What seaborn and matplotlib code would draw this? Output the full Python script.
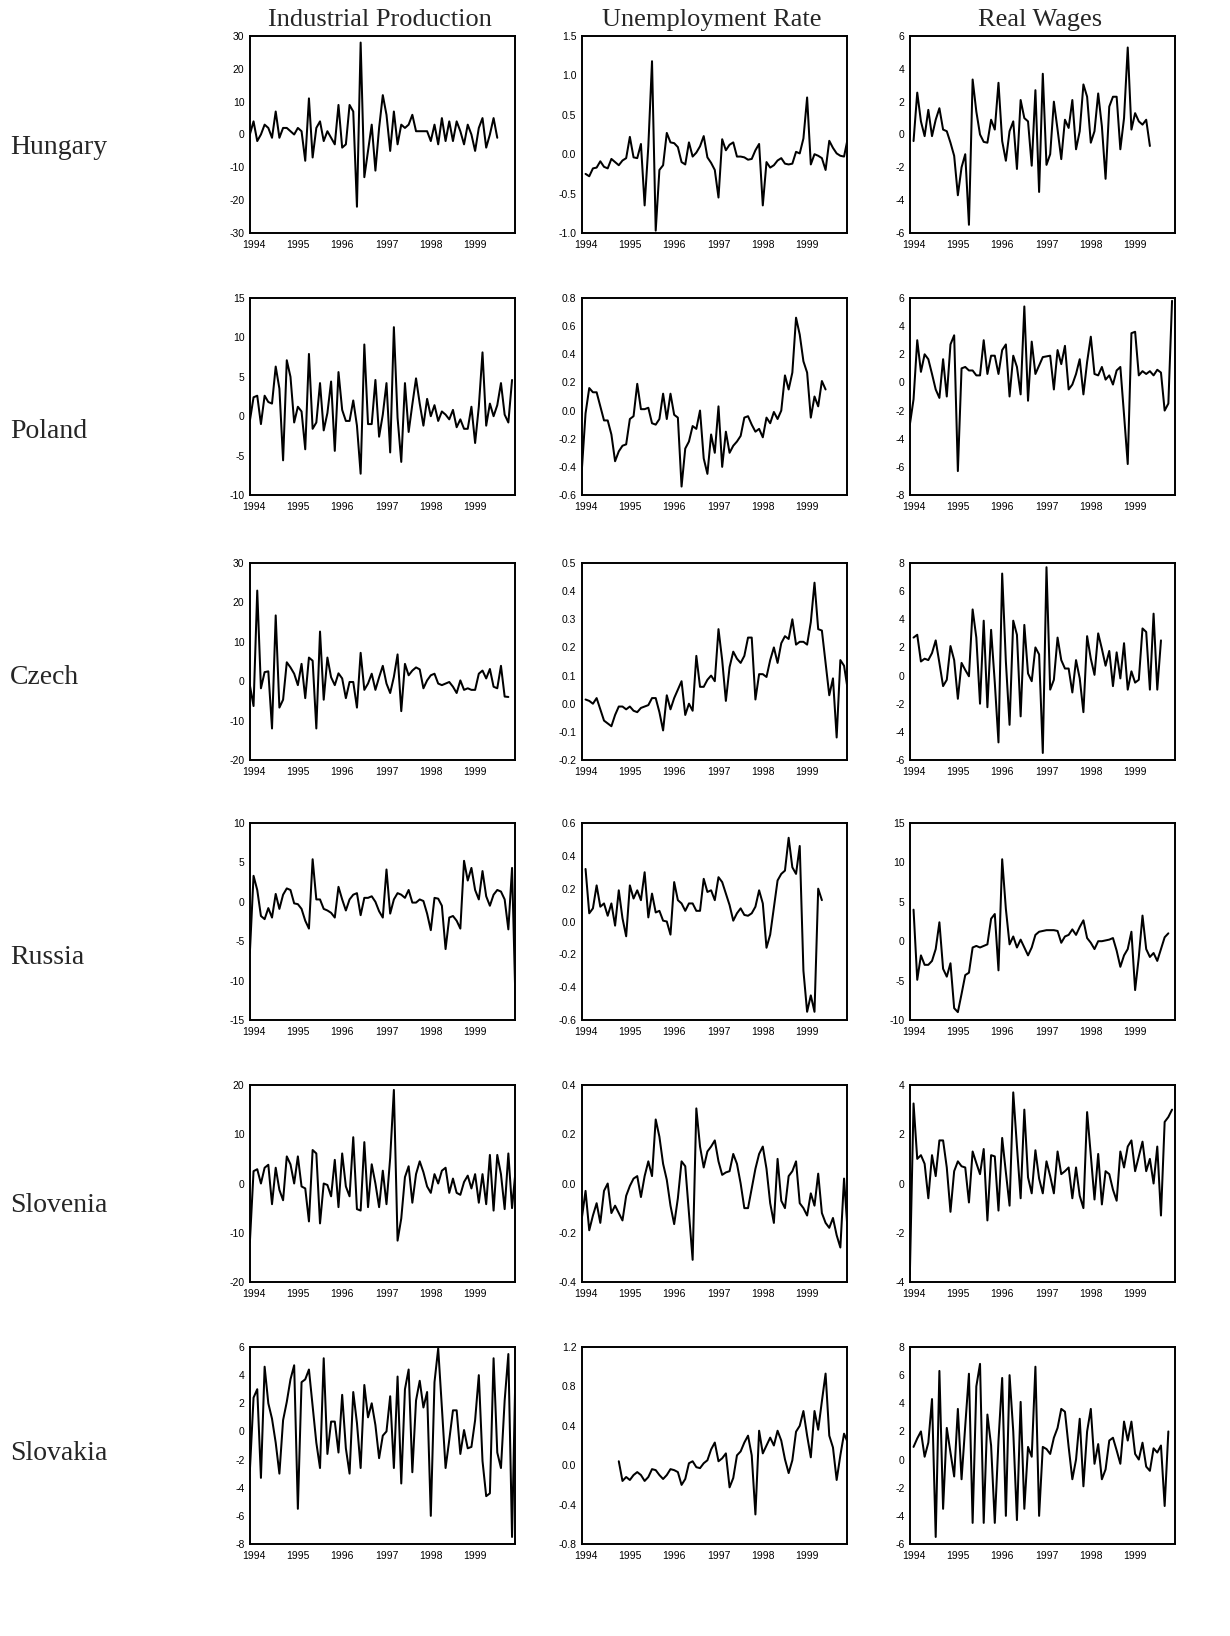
import numpy as np
import pandas as pd
import matplotlib
matplotlib.use("Agg")
import matplotlib.pyplot as plt
import seaborn as sns

sns.set_theme(style="white")
plt.rcParams['font.family'] = ['Liberation Sans', 'DejaVu Sans']
plt.rcParams['axes.unicode_minus'] = False

countries = ["Hungary", "Poland", "Czech", "Russia", "Slovenia", "Slovakia"]
variables = ["Industrial Production", "Unemployment Rate", "Real Wages"]
year_ticks = [1994, 1995, 1996, 1997, 1998, 1999]
year_labels = ["1994", "1995", "1996", "1997", "1998", "1999"]

# monthly series (first value's month offset from Jan 1994 given by *_start)
hungary_ip_start = -1
hungary_ip = [0, 4, -2, 0, 3, 2, -1, 7, -1, 2, 2, 1, 0, 2, 1, -8, 11, -7, 2, 4, -2, 1, -1, -3, 9, -4, -3, 9, 7,
              -22, 28, -13, -5, 3, -11, 2, 12, 6, -5, 7, -3, 3, 2, 3, 6, 1, 1, 1, 1, -2, 3, -3, 5, -2, 4, -2, 4,
              1, -3, 3, 0, -5, 2, 5, -4, 0, 5, -1]
hungary_ur_start = 0
hungary_ur = [-0.25, -0.28, -0.18, -0.17, -0.09, -0.16, -0.18, -0.06, -0.1, -0.14, -0.08, -0.05, 0.22, -0.04,
              -0.05, 0.13, -0.65, 0.1, 1.18, -0.97, -0.2, -0.14, 0.27, 0.15, 0.14, 0.09, -0.1, -0.13, 0.15,
              -0.03, 0.02, 0.1, 0.23, -0.04, -0.11, -0.2, -0.55, 0.19, 0.05, 0.12, 0.15, -0.03, -0.03, -0.04,
              -0.07, -0.06, 0.05, 0.13, -0.65, -0.1, -0.17, -0.14, -0.08, -0.05, -0.12, -0.13, -0.12, 0.03,
              0.01, 0.2, 0.72, -0.13, 0.0, -0.02, -0.05, -0.2, 0.17, 0.08, 0.01, -0.02, -0.03, 0.2, -0.95]
hungary_rw_start = 0
hungary_rw = [-0.4, 2.55, 0.8, -0.1, 1.5, -0.1, 0.9, 1.6, 0.3, 0.2, -0.5, -1.3, -3.7, -2.0, -1.2, -5.5, 3.35,
              1.4, 0.0, -0.45, -0.5, 0.9, 0.3, 3.15, -0.4, -1.6, 0.2, 0.8, -2.1, 2.1, 1.0, 0.8, -1.9, 2.7, -3.5,
              3.7, -1.85, -1.2, 2.0, 0.3, -1.5, 0.9, 0.4, 2.1, -0.9, 0.2, 3.05, 2.3, -0.5, 0.2, 2.5, 0.5, -2.7,
              1.7, 2.3, 2.3, -0.9, 1.0, 5.3, 0.3, 1.3, 0.8, 0.6, 0.9, -0.7]

poland_ip_start = -1
poland_ip = [-0.6, 2.4, 2.6, -1.0, 2.6, 1.8, 1.6, 6.3, 3.5, -5.6, 7.1, 5.0, -0.8, 1.2, 0.6, -4.2, 7.9, -1.6,
             -0.8, 4.2, -1.8, 0.4, 4.4, -4.4, 5.6, 0.8, -0.6, -0.6, 2.0, -1.2, -7.3, 9.1, -1.0, -1.0, 4.6, -2.6,
             0.2, 4.2, -4.6, 11.3, -0.2, -5.8, 4.2, -2.0, 1.5, 4.8, 1.6, -1.2, 2.2, 0.0, 1.4, -0.6, 0.6, 0.2,
             -0.4, 0.8, -1.4, -0.4, -1.6, -1.6, 1.2, -3.4, 1.2, 8.1, -1.2, 1.6, 0.0, 1.4, 4.2, 0.2, -0.8, 4.6]
poland_ur_start = -1
poland_ur = [-0.42, -0.02, 0.16, 0.13, 0.13, 0.03, -0.07, -0.07, -0.17, -0.36, -0.29, -0.25, -0.24, -0.06,
             -0.04, 0.19, 0.01, 0.01, 0.02, -0.09, -0.1, -0.06, 0.12, -0.06, 0.12, -0.03, -0.05, -0.54, -0.27,
             -0.22, -0.11, -0.13, 0.0, -0.34, -0.45, -0.17, -0.3, 0.03, -0.4, -0.15, -0.3, -0.25, -0.22, -0.18,
             -0.05, -0.04, -0.1, -0.15, -0.13, -0.19, -0.05, -0.09, -0.01, -0.06, 0.0, 0.25, 0.15, 0.27, 0.66,
             0.54, 0.35, 0.27, -0.05, 0.1, 0.03, 0.21, 0.15]
poland_rw_start = -1
poland_rw = [-3.0, -1.2, 3.0, 0.75, 2.0, 1.65, 0.6, -0.5, -1.1, 1.65, -1.0, 2.7, 3.35, -6.3, 1.0, 1.1, 0.85,
             0.85, 0.5, 0.5, 3.0, 0.6, 1.9, 1.9, 0.6, 2.3, 2.7, -1.0, 1.9, 1.1, -0.85, 5.4, -1.3, 2.9, 0.6, 1.2,
             1.8, 1.85, 1.9, -0.5, 2.3, 1.3, 2.6, -0.5, -0.15, 0.6, 1.65, -0.85, 1.45, 3.25, 0.6, 0.5, 1.1, 0.2,
             0.5, -0.15, 0.85, 1.1, -2.3, -5.8, 3.5, 3.6, 0.5, 0.8, 0.6, 0.8, 0.5, 0.9, 0.7, -2.0, -1.5, 5.8]

czech_ip_start = -1
czech_ip = [-1, -6.3, 23, -1.8, 2.3, 2.5, -12, 16.7, -6.7, -4.7, 4.8, 3.5, 1.9, -1.0, 4.4, -4.3, 6, 5.2, -12,
            12.6, -4.7, 6, 1, -1, 2, 0.7, -4.3, -0.2, -0.2, -6.7, 7.2, -2.2, -0.6, 1.9, -2.2, 1.0, 3.9, -0.6,
            -3, 1.1, 6.8, -7.6, 4.4, 1.5, 2.7, 3.5, 3.0, -1.8, 0.2, 1.5, 1.9, -0.6, -1, -0.6, -0.2, -1.4, -3,
            0.2, -2.2, -1.8, -2.2, -2.2, 1.9, 2.7, 0.7, 3.1, -1.4, -1.8, 3.9, -3.9, -4]
czech_ur_start = 0
czech_ur = [0.015, 0.01, 0.0, 0.02, -0.02, -0.06, -0.07, -0.08, -0.04, -0.01, -0.01, -0.02, -0.01, -0.025,
            -0.03, -0.015, -0.01, -0.005, 0.02, 0.02, -0.03, -0.095, 0.03, -0.02, 0.02, 0.05, 0.08, -0.04, 0.0,
            -0.025, 0.17, 0.06, 0.06, 0.085, 0.1, 0.08, 0.265, 0.155, 0.01, 0.13, 0.185, 0.16, 0.145, 0.17,
            0.235, 0.235, 0.015, 0.105, 0.105, 0.095, 0.155, 0.2, 0.145, 0.215, 0.24, 0.23, 0.3, 0.21, 0.22,
            0.22, 0.21, 0.29, 0.43, 0.265, 0.26, 0.145, 0.03, 0.09, -0.12, 0.155, 0.135, 0.05]
czech_rw_start = 0
czech_rw = [2.7, 2.9, 1.0, 1.2, 1.1, 1.6, 2.5, 0.9, -0.75, -0.3, 2.1, 1.1, -1.65, 0.9, 0.4, -0.05, 4.7, 2.7,
            -2.0, 3.9, -2.25, 3.25, -0.5, -4.75, 7.25, 1.0, -3.5, 3.9, 2.9, -2.9, 3.6, 0.15, -0.4, 2.0, 1.5,
            -5.5, 7.7, -1.0, -0.3, 2.7, 1.1, 0.5, 0.5, -1.2, 1.1, -0.2, -2.6, 2.8, 1.2, 0.05, 3.0, 1.9, 0.7,
            1.75, -0.75, 1.65, -0.2, 2.3, -1.0, 0.3, -0.5, -0.3, 3.35, 3.1, -1.0, 4.4, -1.0, 2.5]

russia_ip_start = -1
russia_ip = [-6.5, 3.3, 1.5, -1.8, -2.2, -0.8, -2.0, 1.0, -0.9, 0.9, 1.7, 1.5, -0.2, -0.3, -0.9, -2.4, -3.4,
             5.4, 0.3, 0.3, -0.9, -1.1, -1.4, -2.0, 1.9, 0.3, -1.1, 0.3, 0.9, 1.1, -1.7, 0.5, 0.5, 0.7, 0.0,
             -1.2, -2.0, 4.1, -1.5, 0.3, 1.1, 0.9, 0.5, 1.5, -0.1, -0.1, 0.3, 0.1, -1.5, -3.6, 0.5, 0.4, -0.5,
             -6.0, -2.0, -1.8, -2.4, -3.4, 5.2, 2.7, 4.3, 1.5, 0.3, 3.9, 0.7, -0.5, 0.9, 1.5, 1.3, 0.3, -3.5,
             4.3, -14]
russia_ur_start = 0
russia_ur = [0.32, 0.05, 0.08, 0.22, 0.09, 0.11, 0.035, 0.11, -0.025, 0.19, 0.02, -0.09, 0.22, 0.14, 0.19,
             0.13, 0.3, 0.025, 0.17, 0.055, 0.065, 0.005, 0.0, -0.08, 0.24, 0.13, 0.11, 0.065, 0.11, 0.11,
             0.065, 0.065, 0.26, 0.18, 0.19, 0.13, 0.27, 0.24, 0.17, 0.1, 0.005, 0.05, 0.08, 0.04, 0.035, 0.05,
             0.09, 0.19, 0.11, -0.16, -0.08, 0.085, 0.25, 0.29, 0.31, 0.51, 0.33, 0.29, 0.46, -0.3, -0.55,
             -0.45, -0.55, 0.2, 0.13]
russia_rw_start = 0
russia_rw = [4.0, -4.9, -1.8, -3.0, -3.0, -2.5, -1.0, 2.4, -3.5, -4.5, -2.8, -8.5, -9.0, -6.7, -4.3, -4.0,
             -0.8, -0.6, -0.8, -0.6, -0.4, 2.85, 3.45, -3.7, 10.4, 4.1, -0.4, 0.6, -0.8, 0.2, -0.8, -1.8, -0.8,
             0.8, 1.2, 1.3, 1.4, 1.4, 1.4, 1.3, -0.2, 0.6, 0.8, 1.5, 0.8, 1.8, 2.65, 0.4, -0.2, -1.0, 0.0, 0.0,
             0.1, 0.2, 0.4, -1.2, -3.25, -1.8, -1.0, 1.2, -6.2, -2.0, 3.25, -1.0, -2.0, -1.5, -2.5, -1.0, 0.5,
             1.0]

slovenia_ip_start = -1
slovenia_ip = [-12, 2.5, 2.9, 0.0, 3.2, 3.8, -4.2, 3.2, -1.3, -3.4, 5.5, 3.9, 0.0, 5.5, -0.6, -1.0, -7.7, 6.8,
               6.1, -8.1, 0.0, -0.3, -2.6, 4.8, -4.8, 6.1, -0.6, -2.6, 9.4, -5.2, -5.5, 8.4, -4.8, 3.9, 0.0,
               -4.8, 2.6, -4.2, 5.2, 19.0, -11.6, -7.1, 1.3, 3.5, -3.9, 1.9, 4.5, 2.3, -0.6, -1.9, 1.9, 0.0, 2.6,
               3.2, -1.9, 1.0, -1.9, -2.3, 0.3, 1.6, -1.0, 1.9, -3.9, 1.9, -4.2, 5.8, -5.5, 5.8, 1.9, -5.2, 6.1,
               -5.0, 3.0]
slovenia_ur_start = -1
slovenia_ur = [-0.14, -0.03, -0.19, -0.13, -0.08, -0.16, -0.03, 0.0, -0.12, -0.09, -0.12, -0.15, -0.05, -0.01,
               0.02, 0.03, -0.055, 0.03, 0.09, 0.03, 0.26, 0.19, 0.08, 0.015, -0.09, -0.165, -0.06, 0.09, 0.07,
               -0.12, -0.31, 0.305, 0.15, 0.065, 0.13, 0.15, 0.175, 0.09, 0.035, 0.045, 0.05, 0.12, 0.08, 0.0,
               -0.1, -0.1, -0.02, 0.06, 0.12, 0.15, 0.06, -0.08, -0.16, 0.1, -0.07, -0.1, 0.03, 0.05, 0.09,
               -0.08, -0.1, -0.13, -0.04, -0.09, 0.04, -0.12, -0.16, -0.18, -0.14, -0.21, -0.26, 0.02, -0.2,
               -0.32]
slovenia_rw_start = -1
slovenia_rw = [-3.7, 3.25, 1.0, 1.15, 0.8, -0.6, 1.15, 0.3, 1.75, 1.75, 0.65, -1.15, 0.5, 0.9, 0.7, 0.65,
               -0.77, 1.3, 0.83, 0.38, 1.4, -1.5, 1.15, 1.1, -1.1, 1.85, 0.45, -0.9, 3.7, 1.5, -0.6, 3.0, 0.25,
               -0.4, 1.35, 0.2, -0.4, 0.9, 0.3, -0.4, 1.3, 0.38, 0.5, 0.65, -0.6, 0.65, -0.5, -1.0, 2.9, 1.15,
               -0.65, 1.2, -0.85, 0.5, 0.38, -0.25, -0.7, 1.3, 0.65, 1.5, 1.75, 0.5, 1.1, 1.7, 0.5, 1.0, 0.0,
               1.5, -1.3, 2.5, 2.7, 3.0]

slovakia_ip_start = -1
slovakia_ip = [-2.8, 2.4, 3.0, -3.3, 4.6, 2.0, 0.9, -0.8, -3.0, 0.8, 2.1, 3.7, 4.7, -5.5, 3.5, 3.7, 4.4, 1.8,
               -0.8, -2.6, 5.2, -1.6, 0.7, 0.7, -1.5, 2.6, -1.2, -3.0, 2.8, 0.6, -2.6, 3.3, 1.0, 2.0, 0.45, -1.9,
               -0.3, 0.0, 2.5, -2.6, 3.9, -3.7, 3.0, 4.4, -2.9, 2.2, 3.6, 1.7, 2.8, -6.0, 3.5, 5.9, 1.7, -2.6,
               -0.6, 1.5, 1.5, -1.6, 0.1, -1.2, -1.1, 0.8, 4.0, -2.1, -4.6, -4.4, 5.2, -1.5, -2.6, 2.2, 5.5,
               -7.5, 5.3]
slovakia_ur_start = 9
slovakia_ur = [0.04, -0.16, -0.12, -0.15, -0.1, -0.07, -0.1, -0.16, -0.12, -0.04, -0.05, -0.1, -0.14, -0.1,
               -0.04, -0.05, -0.07, -0.2, -0.14, 0.02, 0.04, -0.02, -0.03, 0.02, 0.05, 0.16, 0.23, 0.04, 0.07,
               0.12, -0.225, -0.13, 0.1, 0.14, 0.23, 0.3, 0.1, -0.5, 0.35, 0.12, 0.2, 0.28, 0.2, 0.35, 0.25,
               0.06, -0.08, 0.05, 0.34, 0.4, 0.55, 0.3, 0.08, 0.55, 0.36, 0.65, 0.93, 0.3, 0.18, -0.15, 0.1,
               0.32, 0.23]
slovakia_rw_start = 0
slovakia_rw = [0.9, 1.5, 2.0, 0.2, 1.2, 4.3, -5.5, 6.3, -3.5, 2.25, 0.5, -1.2, 3.6, -1.4, 2.4, 6.1, -4.5, 5.2,
               6.8, -4.5, 3.2, 1.0, -4.5, 1.35, 5.8, -4.0, 6.0, 2.0, -4.3, 4.1, -3.5, 0.9, 0.2, 6.6, -4.0, 0.9,
               0.75, 0.4, 1.55, 2.25, 3.6, 3.4, 0.9, -1.4, 0.0, 2.9, -1.9, 2.0, 3.6, -0.3, 1.1, -1.4, -0.7, 1.35,
               1.55, 0.65, -0.3, 2.7, 1.35, 2.7, 0.4, 0.0, 1.2, -0.5, -0.8, 0.8, 0.5, 1.0, -3.3, 2.0]

# axis ranges per panel: (ymin, ymax, step)
ip_ranges = [(-30, 30, 10), (-10, 15, 5), (-20, 30, 10), (-15, 10, 5), (-20, 20, 10), (-8, 6, 2)]
ur_ranges = [(-1.0, 1.5, 0.5), (-0.6, 0.8, 0.2), (-0.2, 0.5, 0.1), (-0.6, 0.6, 0.2), (-0.4, 0.4, 0.2),
             (-0.8, 1.2, 0.4)]
rw_ranges = [(-6, 6, 2), (-8, 6, 2), (-6, 8, 2), (-10, 15, 5), (-4, 4, 2), (-6, 8, 2)]

series = {
    "Hungary": [(hungary_ip_start, hungary_ip), (hungary_ur_start, hungary_ur), (hungary_rw_start, hungary_rw)],
    "Poland": [(poland_ip_start, poland_ip), (poland_ur_start, poland_ur), (poland_rw_start, poland_rw)],
    "Czech": [(czech_ip_start, czech_ip), (czech_ur_start, czech_ur), (czech_rw_start, czech_rw)],
    "Russia": [(russia_ip_start, russia_ip), (russia_ur_start, russia_ur), (russia_rw_start, russia_rw)],
    "Slovenia": [(slovenia_ip_start, slovenia_ip), (slovenia_ur_start, slovenia_ur),
                 (slovenia_rw_start, slovenia_rw)],
    "Slovakia": [(slovakia_ip_start, slovakia_ip), (slovakia_ur_start, slovakia_ur),
                 (slovakia_rw_start, slovakia_rw)],
}

FW, FH = 1230, 1636
fig = plt.figure(figsize=(FW / 100, FH / 100), dpi=100)
fig.patch.set_facecolor("white")

col_left = [250, 582, 910]
col_center = [380, 712, 1040]
row_top = [36, 298, 563, 823, 1085, 1347]
row_label_y = [148, 431, 677, 958, 1205, 1453]
PW, PH = 265, 197

serif = ['Liberation Serif', 'DejaVu Serif']

for c, var in enumerate(variables):
    fig.text(col_center[c] / FW, 1 - 20 / FH, var, ha='center', va='center', fontsize=19, family=serif)

for r, country in enumerate(countries):
    fig.text(10 / FW, 1 - row_label_y[r] / FH, country, ha='left', va='center', fontsize=20, family=serif)
    ranges = [ip_ranges[r], ur_ranges[r], rw_ranges[r]]
    for c in range(3):
        start, vals = series[country][c]
        df = pd.DataFrame({
            "time": 1994 + (start + np.arange(len(vals))) / 12.0,
            "value": vals,
        })
        ax = fig.add_axes([col_left[c] / FW, 1 - (row_top[r] + PH) / FH, PW / FW, PH / FH])
        sns.lineplot(data=df, x="time", y="value", ax=ax, color="black", linewidth=1.45,
                     estimator=None, sort=False)
        ymin, ymax, step = ranges[c]
        ax.set_ylim(ymin, ymax)
        ax.set_xlim(1993.92, 1999.9)
        yt = np.arange(ymin, ymax + step / 2, step)
        ax.set_yticks(yt)
        if c == 1:
            ax.set_yticklabels([f"{v:.1f}" if abs(v) > 1e-9 else "0.0" for v in yt])
        else:
            ax.set_yticklabels([f"{int(round(v))}" for v in yt])
        ax.set_xticks(year_ticks)
        ax.set_xticklabels(year_labels)
        ax.set_xlabel("")
        ax.set_ylabel("")
        ax.tick_params(axis='both', direction='out', length=3, width=0.9, labelsize=7.5, pad=1,
                       colors='black')
        ax.tick_params(axis='x', pad=2)
        for s in ax.spines.values():
            s.set_visible(True)
            s.set_color('black')
            s.set_linewidth(1.4)
        ax.set_facecolor('white')
        ax.grid(False)

fig.savefig("out.png", dpi=100, facecolor="white")
